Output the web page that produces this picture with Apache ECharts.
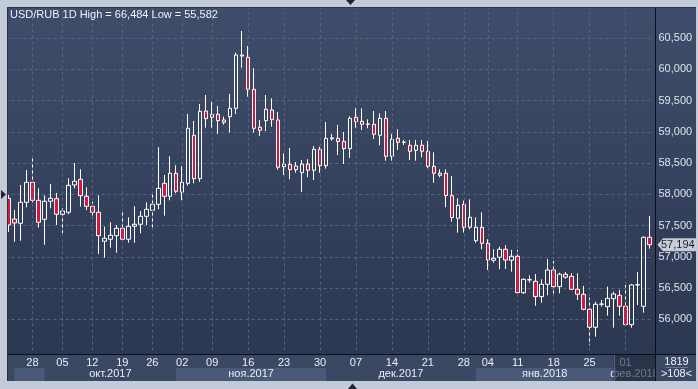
<!DOCTYPE html>
<html><head><meta charset="utf-8">
<script src="https://cdn.jsdelivr.net/npm/echarts@6/dist/echarts.min.js"></script>
<style>html,body{margin:0;padding:0;background:#c2cbd7}#c{width:698px;height:389px}</style>
</head><body><div id="c"></div>
<script>
const open = [57937,57606,57537,57873,58193,57905,57601,57889,57931,57681,
57713,58150,58241,57969,57809,57713,57249,57281,57338,57457,
57281,57489,57521,57649,57745,57841,58177,57969,58338,58033,
58177,58946,58251,59335,59234,59282,59191,59244,59378,60215,
60195,59682,59074,59180,59351,59191,58443,58482,58395,58347,
58486,58386,58722,58459,58890,58898,58850,58731,59234,59170,
59122,59122,58946,59218,58610,58898,58830,58786,58706,58786,
58690,58450,58338,58338,57979,57617,57841,57473,57258,57473,
57217,56945,56993,57121,56945,57009,56426,56629,56608,56362,
56560,56789,56522,56721,56688,56480,56400,56160,55872,56240,
56202,56330,56384,56208,55914,56549,56208,57313];
const close = [57510,57542,57873,58193,57905,57553,57889,57937,57681,57734,
58145,58209,57979,57809,57713,57338,57297,57345,57457,57281,
57489,57521,57649,57761,57841,58097,57969,58338,58049,58193,
59058,58251,59330,59212,59282,59180,59154,59378,60231,60231,
59682,59058,59026,59362,59196,58434,58486,58395,58454,58486,
58386,58722,58459,58898,58905,58847,58731,59218,59164,59122,
59127,58962,59218,58610,58882,58834,58838,58690,58786,58690,
58450,58338,58305,57982,57630,57825,57473,57633,57473,57217,
56949,56977,57121,56949,57009,56426,56640,56635,56362,56560,
56789,56522,56721,56673,56480,56400,56160,55872,56240,56245,
56336,56405,56208,55914,56549,56555,57313,57194];
const high = [57990,57750,58150,58390,58578,58097,57985,58166,58022,57777,
58257,58502,58401,58113,57883,57985,57483,57553,57510,57734,
57633,57809,57734,57873,58001,58754,58310,58610,58466,58454,
59287,59175,59447,59591,59479,59415,59244,59607,60268,60616,
60376,60019,59191,59591,59538,59319,58658,58743,58518,58550,
58562,58775,58763,59159,58967,59111,58999,59250,59378,59378,
59202,59335,59298,59335,58967,59042,58871,58871,58871,58871,
58855,58674,58401,58401,58294,57937,57900,57921,57633,57713,
57281,57121,57162,57185,57110,57110,56656,56704,56725,56640,
56965,56933,56746,56757,56737,56737,56533,56346,56282,56309,
56522,56442,56469,56549,56565,56757,57326,57654];
const low = [57398,57242,57258,57793,57873,57467,57194,57777,57510,57377,
57681,58097,57803,57750,57611,57046,56986,57146,57066,57242,
57226,57226,57377,57510,57467,57761,57659,57905,58017,57905,
58142,58177,58198,59068,59068,58967,59116,58988,59287,60028,
59564,58988,58935,59015,59084,58395,58310,58241,58347,58038,
58274,58230,58347,58411,58859,58630,58486,58582,59068,59031,
59058,58887,58786,58539,58539,58711,58791,58550,58539,58594,
58418,58187,58274,57793,57563,57387,57387,57441,57226,57121,
56789,56906,56801,56805,56762,56416,56405,56586,56218,56266,
56384,56405,56416,56650,56469,56309,56144,55582,55721,56202,
56058,55866,56058,55898,55866,56229,56106,57130];

const tickIndex = [4,9,14,19,24,29,34,40,46,52,58,64,70,76,80,85,91,97,103];
const tickText = ['28','05','12','19','26','02','09','16','23','30','07','14','21','28','04','11','18','25','01'];
const monthLabels = ['', 'окт.2017', 'ноя.2017', 'дек.2017', 'янв.2018', 'фев.2018'];
const monthStart = [1, 6, 28, 53, 78, 101];
const titleText = 'USD/RUB 1D High = 66,484 Low = 55,582';
const lastPrice = 57194;
const footTop = '1819';
const footBottom = '>108<';

const categories = open.map((_, i) => String(i));
const candles = open.map((o, i) => [o, close[i], low[i], high[i]]);
const FONT = "'Liberation Sans Narrow','Arial Narrow','Liberation Sans',Arial,sans-serif";
const fmt = v => String(v).replace(/\B(?=(\d{3})+(?!\d))/g, ',');

const chart = echarts.init(document.getElementById('c'), null, {renderer: 'canvas'});
chart.setOption({
  animation: false,
  backgroundColor: '#c2cbd7',
  grid: {left: 5.5, top: 7, width: 647, height: 343.5},
  xAxis: {
    type: 'category', data: categories, boundaryGap: true, offset: 3.5,
    axisLine: {show: false}, axisTick: {show: false}, splitLine: {show: false},
    axisLabel: {
      interval: (i) => tickIndex.includes(i),
      formatter: (v, i) => { const k = tickIndex.indexOf(i); return k >= 0 ? tickText[k] : ''; },
      color: '#e8eef6', fontFamily: FONT, fontSize: 11, margin: 3
    }
  },
  yAxis: {
    type: 'value', position: 'right', min: 55500, max: 61000, interval: 500, offset: 3,
    axisLine: {show: false}, axisTick: {show: false},
    splitLine: {show: true, showMinLine: false, showMaxLine: false, lineStyle: {color: '#56657f', type: [3, 3], width: 1}},
    axisLabel: {color: '#dde4ee', fontFamily: FONT, fontSize: 11, margin: 3, showMinLabel: false, showMaxLabel: false, formatter: fmt}
  },
  series: [{
    type: 'candlestick', data: candles, barWidth: 4,
    itemStyle: {color: 'rgba(0,0,0,0)', color0: '#dc143c', borderColor: '#ffffff', borderColor0: '#ffffff', borderWidth: 1},
    markLine: {
      silent: true, symbol: ['none', 'none'], label: {show: false}, animation: false,
      lineStyle: {color: '#56657f', type: [3, 3], width: 1},
      emphasis: {disabled: true},
      data: tickIndex.map(i => ({xAxis: categories[i]}))
    }
  }]
});

const x0 = chart.convertToPixel({xAxisIndex: 0}, 0);
const slot = chart.convertToPixel({xAxisIndex: 0}, 1) - x0;
const X = i => x0 + slot * i;
const yp = chart.convertToPixel({yAxisIndex: 0}, lastPrice);
const AXR = 655.5, RIGHT = 696, BOT = 354.5, FOOT = 381;

const g = [];
// backgrounds
g.push({type: 'rect', z: -10, shape: {x: 8, y: 7, width: RIGHT - 8, height: FOOT - 7}, style: {fill: '#3b4864'}});
g.push({type: 'rect', z: -10, shape: {x: 8, y: 7, width: RIGHT - 8, height: BOT - 7},
  style: {fill: new echarts.graphic.LinearGradient(0, 0, 0, 1, [{offset: 0, color: '#3f4d6a'}, {offset: 1, color: '#2c3751'}])}});
// month bands
for (let k = 0; k < monthLabels.length - 1; k++) {
  const xa = X(monthStart[k]), xb = X(monthStart[k + 1]);
  if (k % 2 === 0) g.push({type: 'rect', z: -9, shape: {x: xa, y: 368, width: xb - xa, height: 13}, style: {fill: '#4a5977'}});
  if (monthLabels[k]) g.push({type: 'text', z: 50, style: {text: monthLabels[k], x: (xa + xb) / 2, y: 374, align: 'center', verticalAlign: 'middle', fill: '#e8eef6', font: '11px ' + FONT}});
}
{
  const xa = X(monthStart[monthStart.length - 1]);
  g.push({type: 'text', z: 50, style: {text: monthLabels[monthLabels.length - 1], x: (xa + AXR) / 2, y: 374, align: 'center', verticalAlign: 'middle', fill: '#e8eef6', font: '11px ' + FONT}});
  g.push({type: 'rect', z: 60, shape: {x: xa, y: BOT, width: AXR - xa, height: FOOT - BOT}, style: {fill: 'rgba(30,38,56,0.6)'}});
  g.push({type: 'line', z: 61, shape: {x1: Math.round(xa) + 0.5, y1: BOT, x2: Math.round(xa) + 0.5, y2: FOOT}, style: {stroke: '#55627c', lineWidth: 1}});
}
// right-bottom cell
g.push({type: 'rect', z: 70, shape: {x: AXR, y: BOT, width: RIGHT - AXR, height: FOOT - BOT}, style: {fill: '#3b4864'}});
g.push({type: 'line', z: 71, shape: {x1: 666, y1: 367.5, x2: 688, y2: 367.5}, style: {stroke: '#6a7790', lineWidth: 1}});
g.push({type: 'text', z: 72, style: {text: footTop, x: 676.5, y: 361.5, align: 'center', verticalAlign: 'middle', fill: '#eef2f8', font: '11px ' + FONT}});
g.push({type: 'text', z: 72, style: {text: footBottom, x: 676.5, y: 374, align: 'center', verticalAlign: 'middle', fill: '#eef2f8', font: '11px ' + FONT}});
// frame lines
g.push({type: 'line', z: 80, shape: {x1: 8, y1: BOT, x2: RIGHT, y2: BOT}, style: {stroke: '#0b0f17', lineWidth: 1}});
g.push({type: 'line', z: 80, shape: {x1: AXR, y1: 7, x2: AXR, y2: FOOT}, style: {stroke: '#0b0f17', lineWidth: 1}});
// price tag
g.push({type: 'polygon', z: 90, shape: {points: [[657.5, yp], [663, yp - 6.5], [RIGHT, yp - 6.5], [RIGHT, yp + 6.5], [663, yp + 6.5]]}, style: {fill: '#c8cdd5'}});
g.push({type: 'text', z: 91, style: {text: fmt(lastPrice), x: 661, y: yp, align: 'left', verticalAlign: 'middle', fill: '#1a2030', font: '11px ' + FONT}});
// outer frame overlay
g.push({type: 'rect', z: 100, shape: {x: 0, y: 0, width: 7.5, height: 389}, style: {fill: '#c2cbd7'}});
g.push({type: 'rect', z: 100, shape: {x: RIGHT, y: 0, width: 698 - RIGHT, height: 389}, style: {fill: '#c2cbd7'}});
g.push({type: 'rect', z: 100, shape: {x: 0, y: FOOT, width: 698, height: 389 - FOOT}, style: {fill: '#c2cbd7'}});
g.push({type: 'rect', z: 100, shape: {x: 0, y: 0, width: 698, height: 7}, style: {fill: '#c2cbd7'}});
g.push({type: 'line', z: 101, shape: {x1: 7.5, y1: 7, x2: 7.5, y2: FOOT}, style: {stroke: '#2a3346', lineWidth: 1}});
g.push({type: 'line', z: 101, shape: {x1: 7.5, y1: 7.5, x2: RIGHT, y2: 7.5}, style: {stroke: '#2e384c', lineWidth: 1}});
// triangles
g.push({type: 'polygon', z: 102, shape: {points: [[346, 0], [355, 0], [350.5, 5]]}, style: {fill: '#1d2535'}});
g.push({type: 'polygon', z: 102, shape: {points: [[348, 389], [357, 389], [352.5, 383.5]]}, style: {fill: '#1d2535'}});
g.push({type: 'polygon', z: 102, shape: {points: [[1, 190], [1, 199], [6, 194.5]]}, style: {fill: '#1d2535'}});
// title
g.push({type: 'text', z: 103, style: {text: titleText, x: 10, y: 15, align: 'left', verticalAlign: 'middle', fill: '#eef2f8', font: '11px ' + FONT}});

chart.setOption({graphic: g});
</script></body></html>
